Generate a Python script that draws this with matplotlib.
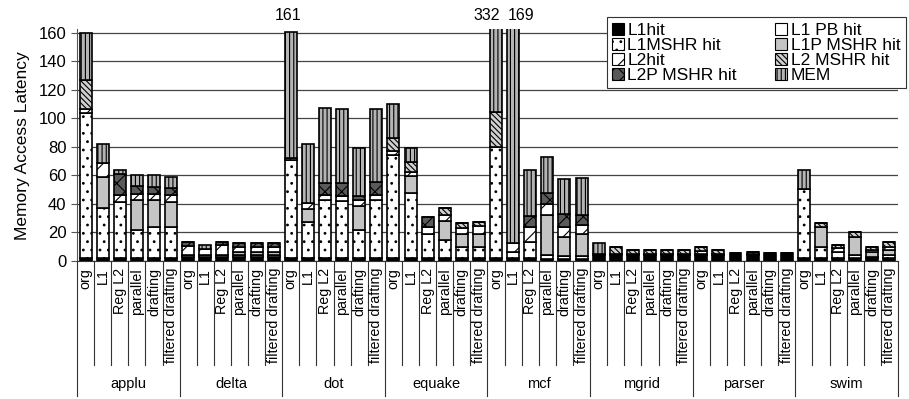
from matplotlib import pyplot as plt
from matplotlib.patches import Patch
import numpy as np

plt.rcParams['font.family'] = ['Liberation Sans', 'DejaVu Sans']
plt.rcParams['hatch.linewidth'] = 0.8

benchmarks = ["applu", "delta", "dot", "equake", "mcf", "mgrid", "parser", "swim"]
configs = ["org", "L1", "Reg L2", "parallel", "drafting", "filtered drafting"]

# one value per bar, benchmark by benchmark, configs in order above
l1hit = [2, 2, 2, 2, 2, 2,
         3, 3, 3, 3, 3, 3,
         2, 2, 2, 2, 2, 2,
         2, 2, 2, 2, 2, 2,
         2, 2, 2, 1.5, 1.5, 1.5,
         4, 4, 4, 4, 4, 4,
         4, 4, 5.5, 4, 5.5, 5.5,
         2, 2, 2, 2, 2, 2]
l1pb = [0, 0, 0, 0, 0, 0,
        1.5, 1.5, 1.5, 1.5, 1.5, 1.5,
        0, 0, 0, 0, 0, 0,
        0, 0, 0, 0, 0, 0,
        0, 0, 0, 2.5, 2, 2,
        1, 1, 1, 1, 1, 1,
        1, 1, 0, 1, 0, 0,
        0, 0, 0, 2, 1, 0]
l1mshr = [102, 35, 39.5, 20, 22, 22,
          0, 0, 0, 0, 0, 0,
          69, 25.5, 40.5, 40, 19.5, 40.5,
          72.5, 45.5, 17, 12.5, 7.5, 8,
          78, 4, 11.5, 0, 0, 0,
          0, 0, 0, 0, 0, 0,
          0, 0, 0, 0, 0, 0,
          48.5, 8, 4, 0, 0, 2]
l1p_mshr = [0, 22, 0, 21, 19, 17.5,
            0, 0, 0, 1.5, 1.5, 1.5,
            0, 9, 0, 0, 17, 0,
            0, 12, 0, 13.5, 9.5, 9,
            0, 0, 0, 28, 13.5, 15.5,
            0, 0, 0, 0, 0, 0,
            0, 0, 0, 0, 0, 0,
            0, 13.5, 0, 13, 3, 4]
l2hit = [2.5, 10, 4.5, 4, 4, 4.5,
         6, 4, 6.5, 4, 4, 4,
         1.5, 4.5, 3.5, 3.5, 4, 3.5,
         3, 3, 5, 4, 4, 5.5,
         0, 6.5, 10.5, 8, 7, 6.5,
         0, 0, 0, 0, 0, 0,
         2, 0, 0, 0, 0, 0,
         0, 0, 3, 0, 2, 2]
l2_mshr = [20.5, 0, 0, 0, 0, 0,
           0, 0, 0, 0, 0, 0,
           0, 0, 0, 0, 0, 0,
           9, 7, 0, 5, 3.5, 3,
           24.5, 0, 0, 0, 0, 0,
           0, 4.5, 2.5, 3, 3, 3,
           2.5, 3, 0, 1.5, 0, 0,
           0, 3.5, 2.5, 3.5, 2, 3]
l2p_mshr = [0, 0, 15, 5.5, 5, 5,
            2.5, 0, 2.5, 2.5, 2.5, 2.5,
            0, 0, 9, 9.5, 3, 9.5,
            0, 0, 7, 0, 0, 0,
            0, 0, 7.5, 7.5, 9, 7,
            0, 0, 0, 0, 0, 0,
            0, 0, 0, 0, 0, 0,
            0, 0, 0, 0, 0, 0]
mem = [33, 13, 3, 8, 8.5, 8,
       0, 2.5, 0, 0, 0, 0,
       88.5, 41, 52.3, 51.8, 33.5, 51.3,
       23.5, 9.5, 0, 0, 0, 0,
       227.5, 156.5, 32.5, 25.5, 24.5, 25.5,
       7.5, 0, 0, 0, 0, 0,
       0, 0, 0, 0, 0, 0,
       13.5, 0, 0, 0, 0, 0]

series = [("L1hit", l1hit, "black", None),
          ("L1 PB hit", l1pb, "white", None),
          ("L1MSHR hit", l1mshr, "white", ".."),
          ("L1P MSHR hit", l1p_mshr, "#c4c4c4", None),
          ("L2hit", l2hit, "white", "//"),
          ("L2 MSHR hit", l2_mshr, "#d0d0d0", "\\\\\\\\\\\\"),
          ("L2P MSHR hit", l2p_mshr, "#5a5a5a", "xx"),
          ("MEM", mem, "#b4b4b4", "||||")]

YMAX = 162.5

fig = plt.figure(figsize=(9.09, 3.99), dpi=100)
ax = fig.add_axes([0.0847, 0.3459, 0.9032, 0.5805])

n_cfg = len(configs)
x = np.arange(len(benchmarks) * n_cfg)
bottom = np.zeros(x.size)
handles = {}
for name, vals, color, hatch in series:
    vals = np.array(vals, dtype=float)
    ax.bar(x, vals, 0.7, bottom=bottom, color=color, hatch=hatch,
           edgecolor="black", linewidth=1.2, zorder=3)
    handles[name] = Patch(facecolor=color, hatch=hatch, edgecolor="black",
                          linewidth=0.8)
    bottom += vals

# totals of bars that stick out of the plot
over = bottom > 160.5
for i in x:
    if not over[i]:
        continue
    if i + 1 < x.size and over[i + 1]:
        ax.text(i + 0.2, 172, str(int(round(bottom[i]))), ha="right",
                va="center", fontsize=11.5, clip_on=False)
    elif i > 0 and over[i - 1]:
        ax.text(i - 0.3, 172, str(int(round(bottom[i]))), ha="left",
                va="center", fontsize=11.5, clip_on=False)
    else:
        ax.text(i - 0.15, 172, str(int(round(bottom[i]))), ha="center",
                va="center", fontsize=11.5, clip_on=False)

ax.set_xlim(-0.5, x.size - 0.5)
ax.set_ylim(0, YMAX)
ax.set_yticks(np.arange(0, 161, 20))
ax.tick_params(axis='y', labelsize=12, length=4, color="#555555")
ax.set_xticks([])
ax.set_ylabel("Memory Access Latency", fontsize=12.5, labelpad=6)
ax.yaxis.grid(True, color="#444444", linewidth=0.9, zorder=0)
for s in ["top", "right"]:
    ax.spines[s].set_visible(False)
ax.spines["left"].set_color("#555555")
ax.spines["bottom"].set_color("#333333")

# category labels under the axis
trans = ax.get_xaxis_transform()
for i in x:
    ax.text(i, -0.03, configs[i % n_cfg], rotation=90, ha="center", va="top",
            fontsize=10.3, transform=trans)
for j in range(x.size + 1):
    lo = -0.585 if j % n_cfg == 0 else -0.45
    ax.plot([j - 0.5, j - 0.5], [0, lo], color="#333333", linewidth=0.8,
            transform=trans, clip_on=False)
for g, b in enumerate(benchmarks):
    ax.text(g * n_cfg + (n_cfg - 1) / 2, -0.533, b, ha="center", va="center",
            fontsize=10.5, transform=trans)

order = ["L1hit", "L1MSHR hit", "L2hit", "L2P MSHR hit",
         "L1 PB hit", "L1P MSHR hit", "L2 MSHR hit", "MEM"]
leg = fig.legend([handles[k] for k in order], order, ncol=2,
                 loc="upper right", bbox_to_anchor=(1.0, 0.965),
                 fontsize=12.5, handlelength=0.7, handleheight=0.7,
                 handletextpad=0.2, labelspacing=0.0, columnspacing=2.2,
                 borderpad=0.3, borderaxespad=0.2, fancybox=False,
                 framealpha=1, edgecolor="#333333")
leg.get_frame().set_linewidth(0.8)

plt.savefig("out.png", dpi=100)
